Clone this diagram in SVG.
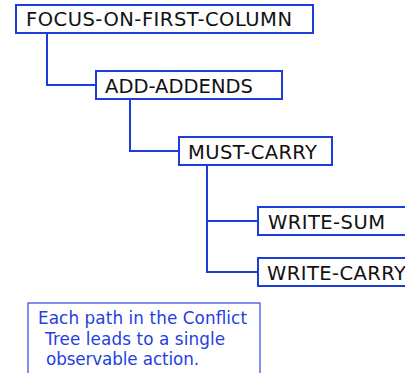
<svg xmlns="http://www.w3.org/2000/svg" width="405" height="373" viewBox="0 0 405 373">
  <style>
    .box { fill: #ffffff; stroke: #1c3cdc; stroke-width: 2; }
    .lbl { font-family: "DejaVu Sans", Verdana, sans-serif; font-size: 19.5px; fill: #111111; }
    .conn { fill: none; stroke: #1c3cdc; stroke-width: 2; }
    .note { fill: #ffffff; stroke: #2a48e0; stroke-width: 1.2; }
    .ntxt { font-family: "DejaVu Sans", Verdana, sans-serif; font-size: 16.8px; fill: #2440e0; }
  </style>
  <rect width="405" height="373" fill="#ffffff"/>
  <g id="connectors">
    <path class="conn" d="M47,33 V85 H96"/>
    <path class="conn" d="M130,99 V151 H179"/>
    <path class="conn" d="M207,165 V272 H258"/>
    <path class="conn" d="M207,221 H258"/>
  </g>
  <g id="focus-on-first-column">
    <rect class="box" x="16" y="5" width="297" height="28"/>
    <text class="lbl" x="26" y="26" textLength="266">FOCUS-ON-FIRST-COLUMN</text>
  </g>
  <g id="add-addends">
    <rect class="box" x="96" y="71" width="186" height="28"/>
    <text class="lbl" x="105" y="92.5" textLength="148">ADD-ADDENDS</text>
  </g>
  <g id="must-carry">
    <rect class="box" x="179" y="137" width="153" height="28"/>
    <text class="lbl" x="188" y="159" textLength="129">MUST-CARRY</text>
  </g>
  <g id="write-sum">
    <rect class="box" x="258" y="207" width="170" height="28"/>
    <text class="lbl" x="268" y="228.5" textLength="117">WRITE-SUM</text>
  </g>
  <g id="write-carry">
    <rect class="box" x="258" y="258" width="170" height="28"/>
    <text class="lbl" x="267" y="279.5" textLength="139">WRITE-CARRY</text>
  </g>
  <g id="note">
    <rect class="note" x="28" y="303" width="232" height="90"/>
    <text class="ntxt" x="38" y="324" textLength="209">Each path in the Conflict</text>
    <text class="ntxt" x="45" y="344.5" textLength="180">Tree leads to a single</text>
    <text class="ntxt" x="46" y="364.5" textLength="153">observable action.</text>
  </g>
</svg>
